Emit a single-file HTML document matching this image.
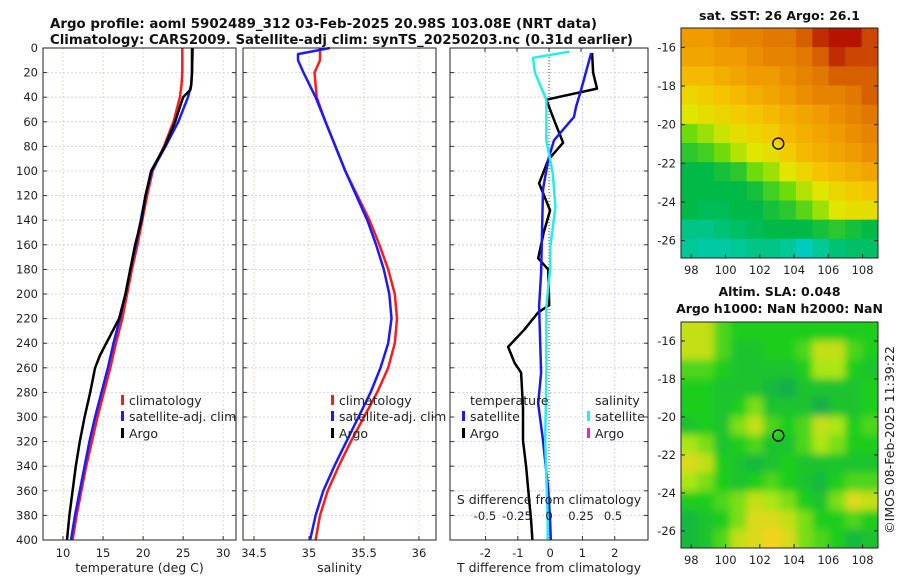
<!DOCTYPE html>
<html><head><meta charset="utf-8"><style>
body{margin:0;background:#fff;}
svg{display:block;font-family:"DejaVu Sans","Liberation Sans",sans-serif;}
</style></head><body>
<svg id="c" width="900" height="580" xmlns="http://www.w3.org/2000/svg"></svg>
<script>
// ---- data ----
const depths=[0,20,40,60,80,100,120,140,160,180,200,220,240,260,280,300,320,340,360,380,400];
const tClimDepth=[0,20,30,40,60,80,100,120,140,160,180,200,220,240,260,280,300,320,340,360,380,400];
const tClim=[24.9,24.9,24.8,24.6,23.8,22.6,21.2,20.5,19.9,19.3,18.6,18.0,17.4,16.6,15.9,15.1,14.3,13.6,12.9,12.3,11.7,11.2];
const tSat=[26.2,26.1,26.0,25.6,24.4,22.8,21.1,20.3,19.7,19.1,18.4,17.8,17.1,16.3,15.6,14.8,14.0,13.3,12.7,12.1,11.5,11.0];
const tArgoDepth=[0,20,30,34,40,60,80,100,120,140,160,180,200,220,240,250,260,280,300,320,340,360,380,400];
const tArgo=[26.1,26.1,26.0,25.9,25.0,24.0,22.7,21.0,20.3,19.8,19.0,18.4,17.8,17.0,15.4,14.6,14.0,13.4,12.7,12.1,11.6,11.2,10.8,10.5];
const sDepth=[0,5,10,20,40,60,80,100,120,140,160,180,200,220,240,260,280,300,320,340,360,380,400];
const sClim=[35.1,35.1,35.1,35.05,35.07,35.15,35.24,35.33,35.44,35.55,35.64,35.72,35.78,35.8,35.78,35.72,35.62,35.5,35.38,35.27,35.17,35.1,35.06];
const sSat=[35.19,34.9,34.9,34.95,35.06,35.15,35.24,35.33,35.43,35.53,35.61,35.68,35.73,35.75,35.72,35.65,35.56,35.45,35.34,35.23,35.13,35.06,35.01];
const dTDepth=[4,20,33,42,59,77,91,110,132,150,171,180,209,215,229,243,256,264,292,319,341,367,384,400];
const dTArgo=[1.3,1.33,1.45,-0.12,0.13,0.4,-0.06,-0.34,0,-0.2,-0.37,-0.06,-0.03,-0.37,-0.8,-1.3,-1.1,-0.9,-0.84,-0.84,-0.74,-0.65,-0.59,-0.55];
const dTSatDepth=[4,34,48,56,75,91,115,183,210,264,289,319,359,384,400];
const dTSat=[1.27,0.96,0.8,0.74,0.12,-0.06,-0.22,-0.28,-0.34,-0.28,-0.37,-0.22,-0.06,0,0.02];
const dSSatDepth=[3,8,20,42,75,102,129,162,178,210,264,319,384,400];
const dSSat=[0.16,-0.125,-0.11,-0.02,-0.02,0.03,0.05,0.01,0.01,-0.02,-0.02,-0.03,-0.01,-0.01];
const depthTicks=[0,20,40,60,80,100,120,140,160,180,200,220,240,260,280,300,320,340,360,380,400];
const tTicks=[10,15,20,25,30];
const sTicks=[34.5,35,35.5,36];
const dTTicks=[-2,-1,0,1,2];
const dSTicks=[-0.5,-0.25,0,0.25,0.5];
const dSTickLabels=["-0.5","-0.25","0","0.25","0.5"];
const lonTicks=[98,100,102,104,106,108];
const latTicks=[-16,-18,-20,-22,-24,-26];
const argoLon=103.08, argoLat=-20.98;
const sstGrid=[
[26.8,26.8,26.9,27,27,27.1,27.1,27.2,27.4,27.5,27.5,27.3],
[26.7,26.7,26.8,26.8,26.9,27,27,27.1,27.2,27.4,27.3,27.3],
[26.5,26.5,26.6,26.7,26.8,26.8,26.9,27,27.1,27.2,27.2,27.2],
[26.2,26.3,26.4,26.5,26.6,26.7,26.8,26.9,27,27,27.1,27.2],
[26,26.1,26.2,26.3,26.4,26.5,26.6,26.7,26.8,26.9,27,27.1],
[25.5,25.7,25.9,26.1,26.2,26.3,26.5,26.6,26.7,26.8,26.9,27],
[25.2,25.3,25.5,25.8,26,26.1,26.3,26.5,26.6,26.7,26.8,26.9],
[25,25,25.1,25.2,25.5,25.7,26,26.2,26.4,26.5,26.6,26.7],
[25,25,25,25,25.1,25.3,25.5,25.8,26,26.2,26.3,26.4],
[25,24.9,24.9,25,25,25.1,25.2,25.4,25.7,26,26.1,26.1],
[24.6,24.6,24.7,24.8,24.9,25,25,25,25.1,25.2,25.1,25.0],
[24.5,24.4,24.4,24.5,24.6,24.6,24.5,24.2,24.5,24.7,24.8,24.8]];
const slaGrid=[
[.8,.8,.5,.4,.4,.4,.4,.4,.4,.4,.4,.4],
[.8,.8,.5,.3,.3,.4,.4,.5,.8,.8,.5,.4],
[.5,.5,.4,.3,.3,.3,.3,.4,.7,.7,.4,.3],
[.4,.4,.3,.3,.3,.2,.1,.3,.3,.3,.3,.4],
[.4,.4,.3,.4,.6,.3,.3,.3,.1,.3,.3,.4],
[.3,.4,.3,.6,.8,.5,.4,.5,.8,.7,.4,.5],
[.7,.6,.3,.4,.5,.3,.3,.5,.7,.6,.4,.4],
[.9,.8,.4,.3,.2,.3,.4,.3,.3,.3,.3,.3],
[.7,.6,.4,.3,.4,.5,.4,.3,.2,.4,.5,.5],
[.4,.4,.5,.6,.8,.7,.6,.4,.3,.6,.9,.8],
[.2,.3,.4,.6,.9,.9,.8,.6,.4,.4,.5,.4],
[.2,.3,.5,.8,.9,1,.9,.6,.5,.4,.2,.3]];

const NS="http://www.w3.org/2000/svg";
const svg=document.getElementById('c');
function el(tag,attrs,parent){const e=document.createElementNS(NS,tag);for(const k in attrs)e.setAttribute(k,attrs[k]);(parent||svg).appendChild(e);return e;}
function txt(x,y,s,attrs,parent){const t=el('text',Object.assign({x:x,y:y,'font-size':12,fill:'#222'},attrs||{}),parent);t.textContent=s;return t;}

const Y0=48,Y1=540;
const yD=d=>Y0+(d/400)*(Y1-Y0);
const panels=[
 {x0:43,x1:236,lo:7.5,hi:31.6,ticks:tTicks,labels:tTicks.map(String),title:"temperature (deg C)",name:"temperature-panel",ylabels:true},
 {x0:243,x1:436,lo:34.4,hi:36.155,ticks:sTicks,labels:["34.5","35","35.5","36"],title:"salinity",name:"salinity-panel"},
 {x0:450,x1:648,lo:-3.1,hi:3.03,ticks:dTTicks,labels:dTTicks.map(String),title:"T difference from climatology",name:"difference-panel"}];
panels.forEach(p=>{p.sx=v=>p.x0+(v-p.lo)/(p.hi-p.lo)*(p.x1-p.x0);});
const dSx=v=>549+v*128;

// titles
let t=txt(50,28,"Argo profile: aoml 5902489_312 03-Feb-2025 20.98S 103.08E (NRT data)",{'font-size':13,'font-weight':'bold',fill:'#111',textLength:547,lengthAdjust:'spacingAndGlyphs'});

t=txt(50,44,"Climatology: CARS2009. Satellite-adj clim: synTS_20250203.nc (0.31d earlier)",{'font-size':13,'font-weight':'bold',fill:'#111',textLength:583,lengthAdjust:'spacingAndGlyphs'});


function line(g,xs,ds,sx,color,w,name){
  const pts=xs.map((v,i)=>sx(v).toFixed(1)+","+yD(ds[i]).toFixed(1)).join(" ");
  const pl=el('polyline',{points:pts,fill:'none',stroke:color,'stroke-width':w,'stroke-linejoin':'round'},g);
  
  
}

panels.forEach((p,pi)=>{
  const g=el('g',{});
  
  
  el('rect',{x:p.x0,y:Y0,width:p.x1-p.x0,height:Y1-Y0,fill:'#fff'},g);
  depthTicks.forEach(d=>{el('line',{x1:p.x0,x2:p.x1,y1:yD(d),y2:yD(d),stroke:'#c4cbe8','stroke-width':0.8,'stroke-dasharray':'2,2'},g);
    el('line',{x1:p.x0,x2:p.x0+4,y1:yD(d),y2:yD(d),stroke:'#333'},g);el('line',{x1:p.x1,x2:p.x1-4,y1:yD(d),y2:yD(d),stroke:'#333'},g);
    if(p.ylabels){const tl=txt(38,yD(d)+4,String(d),{'text-anchor':'end','font-size':11.5},g);}});
  p.ticks.forEach((v,i)=>{const x=p.sx(v);
    el('line',{x1:x,x2:x,y1:Y0,y2:Y1,stroke:pi==2?'#c4cbe8':'#f0c9a8','stroke-width':0.8,'stroke-dasharray':'2,2'},g);
    el('line',{x1:x,x2:x,y1:Y1,y2:Y1-4,stroke:'#333'},g);
    const tl=txt(x,557,p.labels[i],{'text-anchor':'middle','font-size':11.5},g);});
  const at=txt((p.x0+p.x1)/2,572,p.title,{'text-anchor':'middle','font-size':12.5},g);
  
  p.g=g;
});
const P=panels;
line(P[0].g,tClim,tClimDepth,P[0].sx,'#ff1a1a',2.5,'climatology-temperature-line');
line(P[0].g,tSat,tClimDepth,P[0].sx,'#1a1aff',2.5,'satellite-temperature-line');
line(P[0].g,tArgo,tArgoDepth,P[0].sx,'#000',2.5,'argo-temperature-line');
line(P[1].g,sClim,sDepth,P[1].sx,'#ff1a1a',2.5,'climatology-salinity-line');
line(P[1].g,sSat,sDepth,P[1].sx,'#1a1aff',2.5,'satellite-salinity-line');
el('line',{x1:549,x2:549,y1:Y0,y2:Y1,stroke:'#555','stroke-width':1,'stroke-dasharray':'1,2'},P[2].g);
line(P[2].g,dTArgo,dTDepth,P[2].sx,'#000',2.5,'argo-temperature-difference-line');
line(P[2].g,dTSat,dTSatDepth,P[2].sx,'#1a1aee',2.5,'satellite-temperature-difference-line');
line(P[2].g,dSSat,dSSatDepth,dSx,'#22eeee',2.5,'satellite-salinity-difference-line');
dSTicks.forEach((v,i)=>{const x=dSx(v);el('line',{x1:x,x2:x,y1:Y0,y2:Y0+4,stroke:'#333'},P[2].g);
  const tl=txt(x,520,dSTickLabels[i],{'text-anchor':'middle','font-size':11.5},P[2].g);});
t=txt(549,504,"S difference from climatology",{'text-anchor':'middle','font-size':12.5},P[2].g);

panels.forEach(p=>el('rect',{x:p.x0,y:Y0,width:p.x1-p.x0,height:Y1-Y0,fill:'none',stroke:'#222','stroke-width':1},p.g));

function legItem(x,y,color,label,name){const g=el('g',{});
  if(color)el('rect',{x:x-8,y:y-10,width:3,height:10,fill:color},g);txt(x,y,label,{'font-size':12.5},g);}
legItem(129,405,'#ff1a1a','climatology','legend-climatology');
legItem(129,421,'#1a1aff','satellite-adj. clim','legend-satellite-adj');
legItem(129,438,'#000','Argo','legend-argo');
legItem(339,405,'#ff1a1a','climatology','legend-climatology-s');
legItem(339,421,'#1a1aff','satellite-adj. clim','legend-satellite-adj-s');
legItem(339,438,'#000','Argo','legend-argo-s');
legItem(470,405,null,'temperature','legend-temperature-header');
legItem(470,421,'#1a1aee','satellite','legend-t-satellite');
legItem(470,438,'#000','Argo','legend-t-argo');
legItem(595,405,null,'salinity','legend-salinity-header');
legItem(595,421,'#22eeee','satellite','legend-s-satellite');
legItem(595,438,'#ee22cc','Argo','legend-s-argo');

const LON0=97.4,LON1=108.9,LAT0=-15,LAT1=-26.9;
function sstColor(v){const stops=[[24,[0,205,215]],[24.5,[0,200,150]],[25,[0,185,70]],[25.5,[110,220,10]],[26,[225,230,0]],[26.4,[245,195,0]],[26.8,[240,155,0]],[27.1,[225,120,0]],[27.5,[180,20,0]]];
  if(v<=stops[0][0])return 'rgb('+stops[0][1]+')';
  for(let i=1;i<stops.length;i++){if(v<=stops[i][0]){const a=stops[i-1],b=stops[i],f=(v-a[0])/(b[0]-a[0]);return 'rgb('+a[1].map((c,k)=>Math.round(c+(b[1][k]-c)*f)).join(',')+')';}}
  return 'rgb('+stops[stops.length-1][1]+')';}
function slaColor(v){const stops=[[0,[20,165,90]],[0.4,[30,205,30]],[0.7,[170,230,20]],[1,[245,210,30]]];
  for(let i=1;i<stops.length;i++){if(v<=stops[i][0]){const a=stops[i-1],b=stops[i],f=(v-a[0])/(b[0]-a[0]);return 'rgb('+a[1].map((c,k)=>Math.round(c+(b[1][k]-c)*f)).join(',')+')';}}
  return 'rgb('+stops[stops.length-1][1]+')';}
const defs=el('defs',{});
const flt=el('filter',{id:'blur',x:'-10%',y:'-10%',width:'120%',height:'120%'},defs);
el('feGaussianBlur',{stdDeviation:4},flt);
function map(x0,y0,x1,y1,grid,colorFn,blur,name,titles){
  const g=el('g',{});
  const cid='clip'+name;const cp=el('clipPath',{id:cid},defs);el('rect',{x:x0,y:y0,width:x1-x0,height:y1-y0},cp);
  const cg=el('g',{'clip-path':'url(#'+cid+')'},g);
  const inner=el('g',blur?{filter:'url(#blur)'}:{},cg);
  const sx=v=>x0+(v-LON0)/(LON1-LON0)*(x1-x0), sy=v=>y0+(v-LAT0)/(LAT1-LAT0)*(y1-y0);
  const nr=grid.length,nc=grid[0].length,cw=(x1-x0)/nc,ch=(y1-y0)/nr;
  grid.forEach((row,r)=>row.forEach((v,c)=>{
    const ex0=blur&&c==0?8:0, ex1=blur&&c==nc-1?8:0, ey0=blur&&r==0?8:0, ey1=blur&&r==nr-1?8:0;
    const rc=el('rect',{x:x0+c*cw-ex0,y:y0+r*ch-ey0,width:cw+1+ex0+ex1,height:ch+1+ey0+ey1,fill:colorFn(v)},inner);
    }));
  el('rect',{x:x0,y:y0,width:x1-x0,height:y1-y0,fill:'none',stroke:'#222'},g);
  lonTicks.forEach(v=>{const x=sx(v);el('line',{x1:x,x2:x,y1:y1,y2:y1-4,stroke:'#222'},g);
    const tl=txt(x,y1+16,String(v),{'text-anchor':'middle','font-size':11.5},g);});
  latTicks.forEach(v=>{const y=sy(v);el('line',{x1:x0,x2:x0+4,y1:y,y2:y,stroke:'#222'},g);el('line',{x1:x1,x2:x1-4,y1:y,y2:y,stroke:'#222'},g);
    const tl=txt(x0-5,y+4,String(v),{'text-anchor':'end','font-size':11.5},g);});
  const m=el('circle',{cx:sx(argoLon),cy:sy(argoLat),r:5.5,fill:'none',stroke:'#000','stroke-width':1.3},g);
  
  titles.forEach(tt=>{const tl=txt((x0+x1)/2,tt[1],tt[0],{'text-anchor':'middle','font-weight':'bold','font-size':12.5,fill:'#111'},g);});
}
map(681,28,878,258,sstGrid,sstColor,false,'sst-map',[["sat. SST: 26 Argo: 26.1",20]]);
map(681,322,878,548,slaGrid,slaColor,true,'sla-map',[["Altim. SLA: 0.048",296],["Argo h1000: NaN h2000: NaN",313]]);

t=txt(894,440,"©IMOS 08-Feb-2025 11:39:22",{'text-anchor':'middle','font-size':12.5,transform:'rotate(-90 894 440)'});

</script>
</body></html>
